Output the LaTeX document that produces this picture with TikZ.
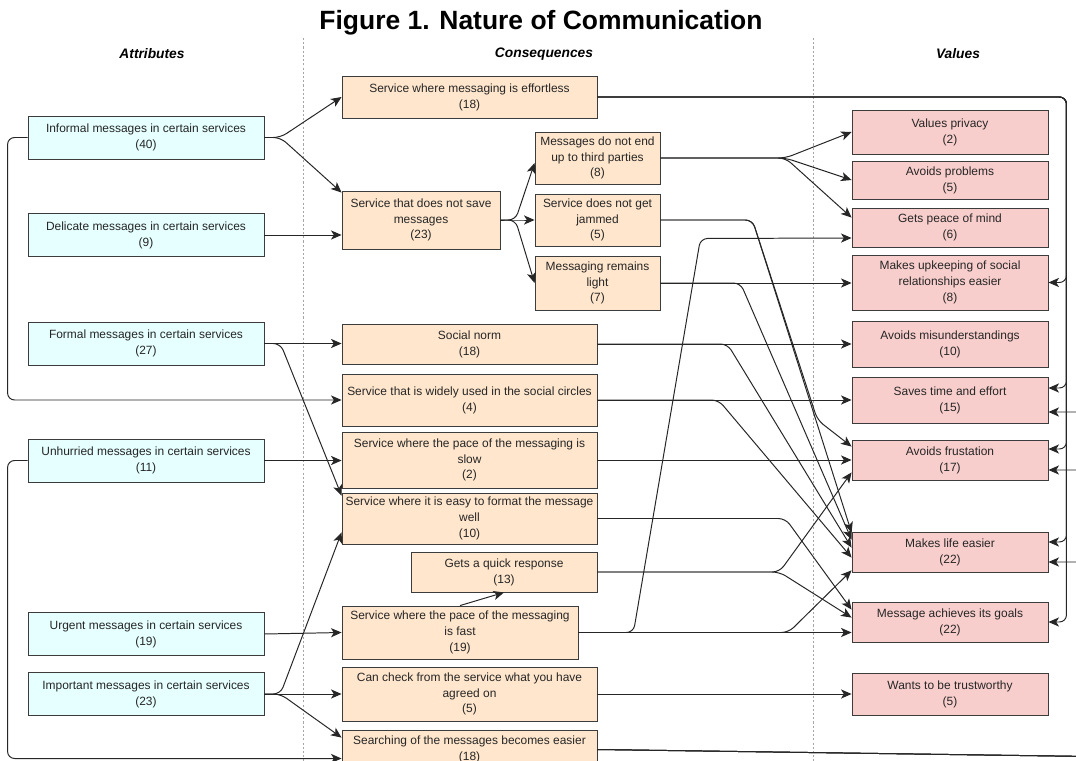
\documentclass[tikz,border=0pt]{standalone}
\usepackage{fontspec}
\setmainfont{Liberation Sans}
\usetikzlibrary{arrows.meta,calc}

\definecolor{attrfill}{HTML}{E6FFFF}
\definecolor{consfill}{HTML}{FFE6CC}
\definecolor{valfill}{HTML}{F8CECC}
\definecolor{boxline}{HTML}{3C3C3C}

\newcommand{\boxtext}{\fontsize{8.5}{11.3}\selectfont}

\tikzset{
  box/.style={draw=boxline, line width=0.6pt, align=center, inner sep=1pt, font=\boxtext, text=black!85},
  attr/.style={box, fill=attrfill, minimum width=5.9cm, minimum height=1.075cm},
  cons/.style={box, fill=consfill},
  val/.style={box, fill=valfill, minimum width=4.9cm},
  conn/.style={draw=black!85, line width=0.7pt, rounded corners=5pt, -{Stealth[length=7.5pt,width=6.5pt,inset=2pt]}},
  colhead/.style={font=\fontsize{9.8}{12}\selectfont\bfseries\itshape},
  divider/.style={draw=black!35, line width=0.5pt, dash pattern=on 1.5pt off 1.5pt},
}

\begin{document}
\begin{tikzpicture}[x=0.025cm, y=-0.025cm]
        \useasboundingbox (0,0) rectangle (1076,761);
        \fill[white] (0,0) rectangle (1076,761);
        \clip (0,0) rectangle (1076,761);

        \node[font=\fontsize{18.8}{22}\selectfont\bfseries] (title) at (541,22.5) {Figure 1. Nature of Communication};
        \node[colhead] (hattr) at (152,54) {Attributes};
        \node[colhead] (hcons) at (544,54) {Consequences};
        \node[colhead] (hval) at (958,54) {Values};

        \draw[divider] (303,38) -- (303,761);
        \draw[divider] (813,38) -- (813,761);

        \node[attr] (a1) at (146,137.5) {Informal messages in certain services\\(40)};
        \node[attr] (a2) at (146,235) {Delicate messages in certain services\\(9)};
        \node[attr] (a3) at (146,343.5) {Formal messages in certain services\\(27)};
        \node[attr] (a4) at (146,460.5) {Unhurried messages in certain services\\(11)};
        \node[attr] (a5) at (146,634) {Urgent messages in certain services\\(19)};
        \node[attr] (a6) at (146,694) {Important messages in certain services\\(23)};

        \node[cons, minimum width=6.375cm, minimum height=1.05cm] (c1) at (469.5,97) {Service where messaging is effortless\\(18)};
        \node[cons, minimum width=3.95cm, minimum height=1.45cm] (c2) at (421,220) {Service that does not save\\messages\\(23)};
        \node[cons, minimum width=3.125cm, minimum height=1.3cm] (c3) at (597.5,158) {Messages do not end\\up to third parties\\(8)};
        \node[cons, minimum width=3.125cm, minimum height=1.3cm] (c4) at (597.5,220) {Service does not get\\jammed\\(5)};
        \node[cons, minimum width=3.125cm, minimum height=1.35cm] (c5) at (597.5,283) {Messaging remains\\light\\(7)};
        \node[cons, minimum width=6.375cm, minimum height=1cm] (c6) at (469.5,344) {Social norm\\(18)};
        \node[cons, minimum width=6.375cm, minimum height=1.3cm] (c7) at (469.5,400) {Service that is widely used in the social circles\\(4)};
        \node[cons, minimum width=6.375cm, minimum height=1.4cm] (c8) at (469.5,460) {Service where the pace of the messaging is\\slow\\(2)};
        \node[cons, minimum width=6.375cm, minimum height=1.275cm] (c9) at (469.5,518.5) {Service where it is easy to format the message\\well\\(10)};
        \node[cons, minimum width=4.65cm, minimum height=1cm] (c10) at (504,572) {Gets a quick response\\(13)};
        \node[cons, minimum width=5.9cm, minimum height=1.325cm] (c11) at (460,632.5) {Service where the pace of the messaging\\is fast\\(19)};
        \node[cons, minimum width=6.375cm, minimum height=1.35cm] (c12) at (469.5,694) {Can check from the service what you have\\agreed on\\(5)};
        \node[cons, minimum width=6.375cm, minimum height=0.975cm] (c13) at (469.5,749.5) {Searching of the messages becomes easier\\(18)};

        \node[val, minimum height=1.1cm] (v1) at (950,132) {Values privacy\\(2)};
        \node[val, minimum height=0.95cm] (v2) at (950,180) {Avoids problems\\(5)};
        \node[val, minimum height=0.975cm] (v3) at (950,227.5) {Gets peace of mind\\(6)};
        \node[val, minimum height=1.375cm] (v4) at (950,282.5) {Makes upkeeping of social\\relationships easier\\(8)};
        \node[val, minimum height=1.15cm] (v5) at (950,344) {Avoids misunderstandings\\(10)};
        \node[val, minimum height=1.15cm] (v6) at (950,400) {Saves time and effort\\(15)};
        \node[val, minimum height=1cm] (v7) at (950,460) {Avoids frustation\\(17)};
        \node[val, minimum height=1cm] (v8) at (950,552) {Makes life easier\\(22)};
        \node[val, minimum height=1cm] (v9) at (950,622) {Message achieves its goals\\(22)};
        \node[val, minimum height=1.05cm] (v10) at (950,694) {Wants to be trustworthy\\(5)};

        \draw[conn] (a1.east) -- ++(16,0) -- (c1.west);
        \draw[conn] (a1.east) -- ++(16,0) -- ($(c2.north west)+(0,2)$);
        \draw[conn] (a1.west) -- ++(-20,0) |- (c7.west);
        \draw[conn] (a2.east) -- (a2.east -| c2.west);
        \draw[conn] (a3.east) -- (a3.east -| c6.west);
        \draw[conn] (a3.east) -- ++(16,0) -- ($(c9.north west)+(0,3)$);
        \draw[conn] (a4.east) -- (a4.east -| c8.west);
        \draw[conn] (a4.west) -- ++(-20,0) |- ($(c13.west)+(0,9)$);
        \draw[conn] (a5.east) -- (c11.west);
        \draw[conn] (a6.east) -- ++(16,0) -- ($(c9.south west)+(0,-12)$);
        \draw[conn] (a6.east) -- (a6.east -| c12.west);
        \draw[conn] (a6.east) -- ++(16,0) -- ($(c13.north west)+(0,8)$);

        \draw[conn] (c2.east) -- ++(15,0) -- ($(c3.west)+(0,5)$);
        \draw[conn] (c2.east) -- ++(15,0) -- (c4.west);
        \draw[conn] (c2.east) -- ++(15,0) -- (c5.west);
        \draw[conn] (c11.north) -- (c10.south);

        \draw[conn] (c1.east) -- ++(469,0) |- (v4.east);
        \draw[conn] (c1.east) -- ++(469,0) |- ($(v6.east)+(0,-12)$);
        \draw[conn] (c1.east) -- ++(469,0) |- ($(v7.east)+(0,-11)$);
        \draw[conn] (c1.east) -- ++(469,0) |- ($(v8.east)+(0,-10)$);
        \draw[conn] (c1.east) -- ++(469,0) |- (v9.east);
        \draw[conn] (c13.east) -- ++(493,7) |- ($(v6.east)+(0,12)$);
        \draw[conn] (c13.east) -- ++(493,7) |- ($(v7.east)+(0,10)$);
        \draw[conn] (c13.east) -- ++(493,7) |- ($(v8.east)+(0,10)$);

        \draw[conn] (c3.east) -- ++(125,0) -- (v1.west);
        \draw[conn] (c3.east) -- ++(125,0) -- (v2.west);
        \draw[conn] (c3.east) -- ++(125,0) -- ($(v3.north west)+(0,10)$);
        \draw[conn] (c4.east) -- ++(92,0) -- ++(65,200) -- ($(v7.north west)+(0,7)$);
        \draw[conn] (c4.east) -- ++(92,0) -- ($(v8.north west)+(0,1)$);
        \draw[conn] (c5.east) -- (c5.east -| v4.west);
        \draw[conn] (c5.east) -- ++(80,0) -- ($(v8.north west)+(0,8)$);
        \draw[conn] (c6.east) -- (c6.east -| v5.west);
        \draw[conn] (c6.east) -- ++(130,0) -- ($(v8.north west)+(0,16)$);
        \draw[conn] (c7.east) -- (c7.east -| v6.west);
        \draw[conn] (c7.east) -- ++(121,0) -- ($(v8.north west)+(0,26)$);
        \draw[conn] (c8.east) -- (c8.east -| v7.west);
        \draw[conn] (c9.east) -- ++(188,0) -- ($(v9.north west)+(0,8)$);
        \draw[conn] (c10.east) -- ++(182,0) -- ($(v7.south west)+(0,-8)$);
        \draw[conn] (c10.east) -- ++(182,0) -- ($(v9.north west)+(0,16)$);
        \draw[conn] (c11.east) -- (c11.east -| v9.west);
        \draw[conn] (c11.east) -- ++(210,0) -- ($(v8.south west)+(0,-2)$);
        \draw[conn] (c11.east) -- ++(55,0) -- ++(67,-394) -- ($(v3.west)+(0,10.5)$);
        \draw[conn] (c12.east) -- (c12.east -| v10.west);

\end{tikzpicture}
\end{document}
